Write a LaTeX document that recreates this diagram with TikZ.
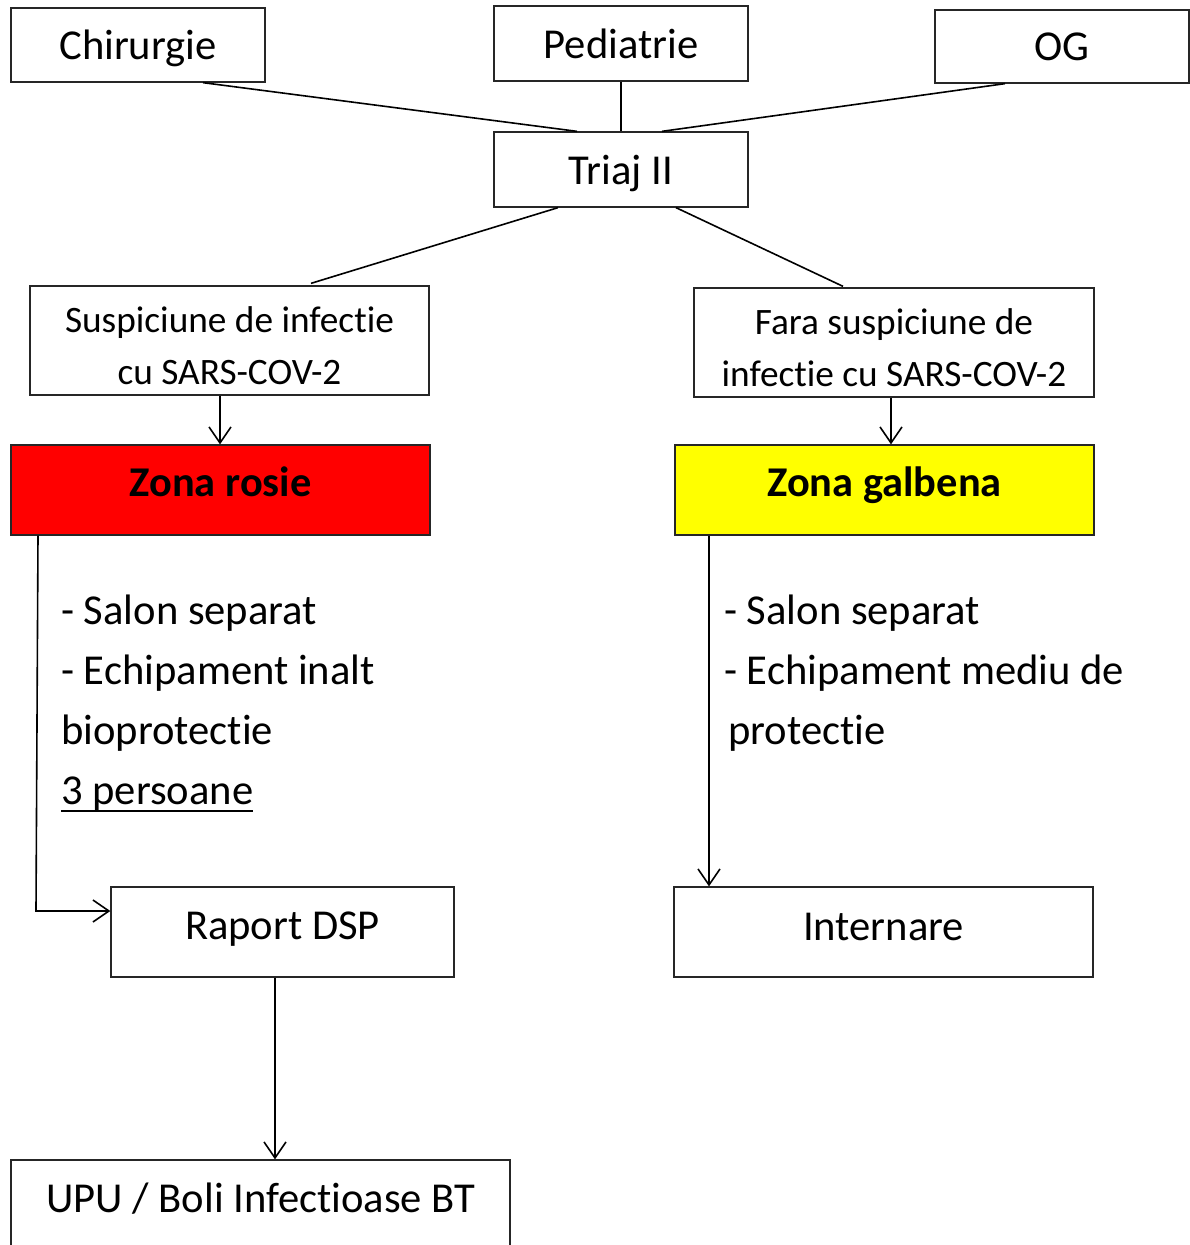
\documentclass[tikz,border=0pt]{standalone}
\usepackage{fontspec}
\setmainfont{Carlito}[Ligatures=NoCommon]
\usetikzlibrary{arrows.meta}
\definecolor{zonered}{RGB}{255,0,0}
\definecolor{zoneyellow}{RGB}{255,255,0}
\tikzset{
  box/.style={draw=black!85, line width=1.3pt, rectangle, inner sep=0pt},
  lbl/.style={inner sep=0pt, anchor=base, font=\fontsize{42.6}{50}\selectfont},
  slbl/.style={inner sep=0pt, anchor=base, font=\fontsize{37.3}{45}\selectfont},
  blbl/.style={inner sep=0pt, anchor=base, font=\fontsize{42.4}{50}\selectfont\bfseries},
  item/.style={inner sep=0pt, anchor=base west, font=\fontsize{42.6}{50}\selectfont},
  conn/.style={line width=1.6pt, black},
  arr/.style={conn, -{Straight Barb[length=16pt,width=22pt,line width=1.6pt]}},
}
\begin{document}
\begin{tikzpicture}[x=1pt,y=-1pt]
\clip (0,0) rectangle (1190,1245);
\fill[white] (0,0) rectangle (1190,1245);
% boxes
\node[box, minimum width=254pt, minimum height=74pt] (chir) at (138,45) {};
\node[box, minimum width=254pt, minimum height=75pt] (ped) at (621,43.5) {};
\node[box, minimum width=254pt, minimum height=73pt] (og) at (1062,46.5) {};
\node[box, minimum width=254pt, minimum height=75pt] (tri) at (621,169.5) {};
\node[box, minimum width=399pt, minimum height=109pt] (susp) at (229.5,340.5) {};
\node[box, minimum width=400pt, minimum height=109pt] (fara) at (894,342.5) {};
\node[box, fill=zonered, minimum width=419pt, minimum height=90pt] (zr) at (220.5,490) {};
\node[box, fill=zoneyellow, minimum width=419pt, minimum height=90pt] (zg) at (884.5,490) {};
\node[box, minimum width=343pt, minimum height=90pt] (rap) at (282.5,932) {};
\node[box, minimum width=419pt, minimum height=90pt] (int) at (883.5,932) {};
\node[box, minimum width=499pt, minimum height=110pt] (upu) at (260.5,1215) {};
% box texts
\node[lbl] (tchir) at (138,59) {Chirurgie};
\node[lbl] (tped) at (621,58) {Pediatrie};
\node[lbl] (tog) at (1062,60) {OG};
\node[lbl] (ttri) at (621,184) {Triaj II};
\node[slbl] (tsusp1) at (229.5,332) {Suspiciune de infectie};
\node[slbl] (tsusp2) at (229.5,384) {cu SARS-COV-2};
\node[slbl] (tfara1) at (894,334) {Fara suspiciune de};
\node[slbl] (tfara2) at (894,386) {infectie cu SARS-COV-2};
\node[blbl] (tzr) at (220.5,496) {Zona rosie};
\node[blbl] (tzg) at (884.5,496) {Zona galbena};
\node[lbl] (trap) at (282.5,939) {Raport DSP};
\node[lbl] (tint) at (883.5,940) {Internare};
\node[lbl] (tupu) at (260.5,1212) {UPU / Boli Infectioase BT};
% lists
\node[item] (l1) at (61,624) {- Salon separat};
\node[item] (l2) at (61,684) {- Echipament inalt};
\node[item] (l3) at (61,744) {bioprotectie};
\node[item] (l4) at (61,804) {3 persoane};
\draw[line width=2pt] ([yshift=-6.5pt]l4.base west) -- ([yshift=-6.5pt]l4.base east);
\node[item] (r1) at (724,624) {- Salon separat};
\node[item] (r2) at (724,684) {- Echipament mediu de};
\node[item] (r3) at (728,744) {protectie};
% connectors
\draw[conn] ([xshift=65pt]chir.south) -- ([xshift=-44pt]tri.north);
\draw[conn] (ped.south) -- (tri.north);
\draw[conn] ([xshift=-57pt]og.south) -- ([xshift=41pt]tri.north);
\draw[conn] ([xshift=-63pt]tri.south) -- ([xshift=81.5pt,yshift=2pt]susp.north);
\draw[conn] ([xshift=55pt]tri.south) -- ([xshift=-51pt,yshift=1pt]fara.north);
\draw[arr] ([xshift=-9.5pt]susp.south) -- ([xshift=-9.5pt]susp.south |- zr.north);
\draw[arr] ([xshift=-3pt]fara.south) -- ([xshift=-3pt]fara.south |- zg.north);
\coordinate (bend) at (36,911);
\draw[arr] ([xshift=-182.5pt]zr.south) -- (bend) -- (bend -| rap.west);
\draw[arr] ([xshift=-175.5pt]zg.south) -- ([xshift=-175.5pt]zg.south |- int.north);
\draw[arr] ([xshift=-7.5pt]rap.south) -- ([xshift=-7.5pt]rap.south |- upu.north);
\end{tikzpicture}
\end{document}
